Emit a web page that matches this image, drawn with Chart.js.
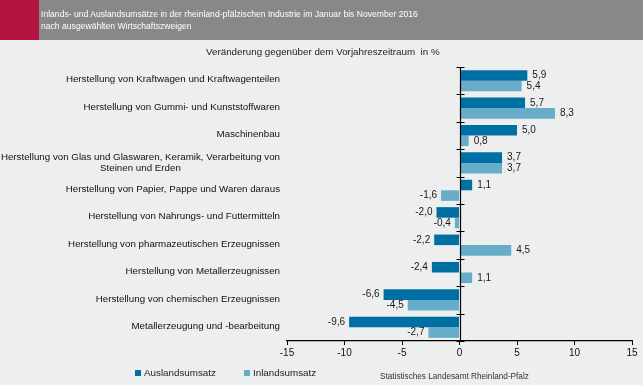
<!DOCTYPE html>
<html><head><meta charset="utf-8">
<script src="https://cdn.jsdelivr.net/npm/chart.js@4"></script>
<style>
html,body{margin:0;padding:0;background:#edeeee;}
body{width:643px;height:385px;position:relative;overflow:hidden;font-family:"Liberation Sans",Arial,sans-serif;}
#hdr{position:absolute;left:0;top:0;width:643px;height:40px;background:#888888;}
#red{position:absolute;left:0;top:0;width:39px;height:40px;background:#b4123f;}
#ttl{position:absolute;left:41px;top:8px;color:#fff;font-size:8.6px;line-height:12px;}
#sub{position:absolute;left:206px;top:46px;font-size:9.8px;color:#222;}
.leg{position:absolute;top:367px;font-size:9.8px;color:#222;}
.sw{display:inline-block;width:6px;height:6px;margin-right:3px;vertical-align:0px;}
#src{position:absolute;left:380px;top:372px;font-size:8.2px;color:#333;}
canvas{position:absolute;left:0;top:0;}
</style></head><body>
<canvas id="c" width="643" height="385"></canvas>
<div id="hdr"><div id="red"></div><div id="ttl">Inlands- und Auslandsumsätze in der rheinland-pfälzischen Industrie im Januar bis November 2016<br>nach ausgewählten Wirtschaftszweigen</div></div>
<div id="sub">Veränderung gegenüber dem Vorjahreszeitraum&nbsp; in %</div>
<div class="leg" style="left:135px"><span class="sw" style="background:#0070a4"></span>Auslandsumsatz</div>
<div class="leg" style="left:244px"><span class="sw" style="background:#67acc9"></span>Inlandsumsatz</div>
<div id="src">Statistisches Landesamt Rheinland-Pfalz</div>
<script>
const categories = [
  ["Herstellung von Kraftwagen und Kraftwagenteilen"],
  ["Herstellung von Gummi- und Kunststoffwaren"],
  ["Maschinenbau"],
  ["Herstellung von Glas und Glaswaren, Keramik, Verarbeitung von","Steinen und Erden"],
  ["Herstellung von Papier, Pappe und Waren daraus"],
  ["Herstellung von Nahrungs- und Futtermitteln"],
  ["Herstellung von pharmazeutischen Erzeugnissen"],
  ["Herstellung von Metallerzeugnissen"],
  ["Herstellung von chemischen Erzeugnissen"],
  ["Metallerzeugung und -bearbeitung"]
];
const auslandsumsatz = [5.9, 5.7, 5.0, 3.7, 1.1, -2.0, -2.2, -2.4, -6.6, -9.6];
const inlandsumsatz  = [5.4, 8.3, 0.8, 3.7, -1.6, -0.4, 4.5, 1.1, -4.5, -2.7];
const xTicks = [-15, -10, -5, 0, 5, 10, 15];

const FONT = '"Liberation Sans", Arial, sans-serif';

const helper = {
  id: 'helper',
  afterDatasetsDraw(chart) {
    const ctx = chart.ctx;
    const xs = chart.scales.x, ys = chart.scales.y;
    const ca = chart.chartArea;
    const x0 = Math.round(xs.getPixelForValue(0)) + 0.5;
    ctx.save();
    ctx.strokeStyle = '#000';
    ctx.lineWidth = 1.2;
    ctx.beginPath();
    ctx.moveTo(x0, ca.top); ctx.lineTo(x0, ca.bottom);
    const step = ys.getPixelForValue(1) - ys.getPixelForValue(0);
    for (let i = 0; i <= categories.length; i++) {
      const y = Math.round(i < categories.length ? ys.getPixelForValue(i) - step / 2 : ca.bottom) + 0.5;
      ctx.moveTo(x0 - 4, y); ctx.lineTo(x0 + 4, y);
    }
    ctx.stroke();
    // data labels
    ctx.font = '10px ' + FONT;
    ctx.fillStyle = '#1a1a1a';
    ctx.textBaseline = 'middle';
    chart.data.datasets.forEach((ds, di) => {
      const meta = chart.getDatasetMeta(di);
      meta.data.forEach((bar, i) => {
        const v = ds.data[i];
        const t = v.toFixed(1).replace('.', ',');
        if (v >= 0) { ctx.textAlign = 'left'; ctx.fillText(t, bar.x + 5, bar.y); }
        else { ctx.textAlign = 'right'; ctx.fillText(t, bar.x - 4, bar.y); }
      });
    });
    // category labels
    ctx.fillStyle = '#111';
    ctx.font = '9.75px ' + FONT;
    const right = ca.left - 7;
    categories.forEach((lab, i) => {
      const yc = ys.getPixelForValue(i);
      if (lab.length === 1) {
        ctx.textAlign = 'right';
        ctx.fillText(lab[0], right, yc - 1);
      } else {
        const w = ctx.measureText(lab[0]).width;
        ctx.textAlign = 'right';
        ctx.fillText(lab[0], right, yc - 6);
        ctx.textAlign = 'center';
        ctx.fillText(lab[1], right - w / 2, yc + 5);
      }
    });
    ctx.restore();
  }
};

new Chart(document.getElementById('c'), {
  type: 'bar',
  data: {
    labels: categories,
    datasets: [
      { label: 'Auslandsumsatz', data: auslandsumsatz, backgroundColor: '#0070a4' },
      { label: 'Inlandsumsatz', data: inlandsumsatz, backgroundColor: '#67acc9' }
    ]
  },
  options: {
    indexAxis: 'y',
    responsive: false,
    animation: false,
    devicePixelRatio: 1,
    layout: { padding: { left: 287, right: 11, top: 67, bottom: 0 } },
    datasets: { bar: { categoryPercentage: 0.77, barPercentage: 1 } },
    plugins: { legend: { display: false }, tooltip: { enabled: false } },
    scales: {
      x: {
        min: -15, max: 15,
        afterBuildTicks(s) { s.ticks = xTicks.map(v => ({ value: v })); },
        afterFit(s) { s.height = 44; },
        grid: { display: true, drawOnChartArea: false, drawTicks: true, tickLength: 4, color: '#000', lineWidth: 1 },
        border: { display: true, color: '#000', width: 1.2 },
        ticks: { color: '#111', font: { family: FONT, size: 10 }, padding: 2, callback: v => String(v) }
      },
      y: {
        afterFit(s) { s.width = 0; },
        ticks: { display: false },
        grid: { display: false },
        border: { display: false }
      }
    }
  },
  plugins: [helper]
});
</script>
</body></html>
